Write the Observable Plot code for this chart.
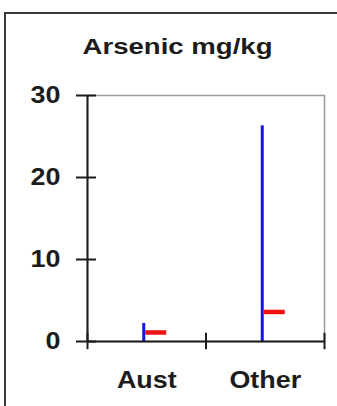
<!DOCTYPE html>
<html>
<head>
<meta charset="utf-8">
<script src="https://cdn.jsdelivr.net/npm/d3@7"></script>
<script src="https://cdn.jsdelivr.net/npm/@observablehq/plot@0.6"></script>
<style>
  html, body { margin: 0; padding: 0; background: #fff; }
  #wrap { position: relative; width: 337px; height: 406px; overflow: hidden; background: #fff; }
  #border { position: absolute; left: 4px; top: 12px; width: 420px; height: 480px; border: 2px solid #3a3a3a; box-sizing: border-box; }
  #chart { position: absolute; left: 0; top: 0; }
</style>
</head>
<body>
<div id="wrap"><div id="border"></div><div id="chart"></div></div>
<script>
const title = "Arsenic mg/kg";
const categories = ["Aust", "Other"];
const minValues = [0, 0];
const maxValues = [2.2, 26.3];
const medianValues = [1.1, 3.6];
const yTicks = [0, 10, 20, 30];

const data = categories.map((c, i) => ({cat: c, pos: i + 0.5, min: minValues[i], max: maxValues[i], med: medianValues[i]}));
const boundaries = d3.range(categories.length + 1);

const ink = "#1c1c1c";
const chart = Plot.plot({
  width: 337,
  height: 406,
  marginLeft: 87,
  marginRight: 13,
  marginTop: 95,
  marginBottom: 65,
  x: {domain: [0, categories.length], axis: null},
  y: {domain: [0, 30], axis: null},
  style: {fontFamily: "'Liberation Sans', Arial, sans-serif", fontWeight: "bold", color: ink, background: "transparent"},
  marks: [
    Plot.frame({stroke: "#9a9a9a", strokeWidth: 1.5}),
    Plot.ruleX(data, {x: "pos", y1: "min", y2: "max", dx: -3, stroke: "#1414e6", strokeWidth: 3}),
    Plot.ruleY(data, {y: "med", x1: "pos", x2: "pos", insetLeft: -1, insetRight: -20, stroke: "#ee1313", strokeWidth: 4.5}),
    Plot.ruleY([0], {stroke: ink, strokeWidth: 2}),
    Plot.ruleX([0], {stroke: ink, strokeWidth: 2}),
    Plot.ruleX(boundaries, {y1: -1, y2: 1, stroke: ink, strokeWidth: 2}),
    Plot.axisY(yTicks, {tickSize: 20, dx: 9, tickPadding: 16, fontSize: 24, stroke: ink, strokeWidth: 2, fill: ink}),
    Plot.text(data, {x: "pos", text: "cat", frameAnchor: "bottom", lineAnchor: "bottom", dy: 46, fontSize: 24, fill: ink}),
    Plot.text([title], {frameAnchor: "top", dx: -28.5, dy: -42, lineAnchor: "bottom", fontSize: 22.5, fill: ink})
  ]
});
document.getElementById("chart").appendChild(chart);
d3.select(chart).selectAll("text").each(function() {
  const L = this.getComputedTextLength();
  const target = this.textContent === title ? 190 : L * 1.12;
  this.setAttribute("textLength", target);
  this.setAttribute("lengthAdjust", "spacingAndGlyphs");
});
</script>
</body>
</html>
